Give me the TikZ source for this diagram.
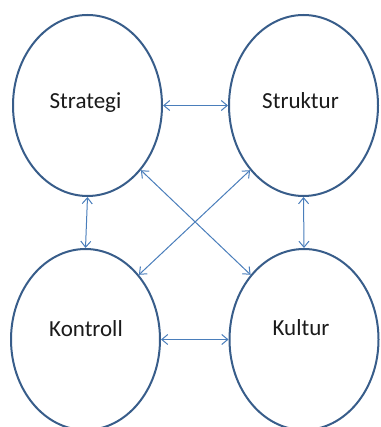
\documentclass[tikz,border=0pt]{standalone}
\usepackage{fontspec}
\setmainfont{Carlito}
\usetikzlibrary{arrows.meta,shapes.geometric}
\definecolor{ringblue}{HTML}{385D8A}
\definecolor{linkblue}{HTML}{4A7EBB}
\definecolor{ink}     {HTML}{1A1A1A}
\tikzset{
  ringnode/.style ={ellipse, draw=ringblue, fill=white, line width=2pt,
                    minimum width=149pt, minimum height=181pt, inner sep=0pt},
  ringtext/.style ={font=\fontsize{23}{27}\selectfont, text=ink,
                    inner sep=0pt, anchor=base},
  linkarr/.style  ={{Straight Barb[length=6pt,width=10pt]}-{Straight Barb[length=6pt,width=10pt]},
                    line width=1pt, color=linkblue},
}
\begin{document}
\begin{tikzpicture}[x=1pt,y=-1pt]
    \clip (0,0) rectangle (380,427);
    \node[ringnode] (strategi) at (87.5,105.5) {};
    \node[ringnode] (struktur) at (303.5,105.5) {};
    \node[ringnode] (kontroll) at (85.5,339.5) {};
    \node[ringnode] (kultur)   at (304,339.5) {};

    \draw[linkarr] (strategi.east)       -- (struktur.west);
    \draw[linkarr] (kontroll.east)       -- (kultur.west);
    \draw[linkarr] (strategi.south)      -- (kontroll.north);
    \draw[linkarr] (struktur.south)      -- (kultur.north);
    \draw[linkarr] (strategi.south east) -- (kultur.north west);
    \draw[linkarr] (struktur.south west) -- (kontroll.north east);

    \node[ringtext] (strategiT) at (85.5,109) {Strategi};
    \node[ringtext] (strukturT) at (300.5,109) {Struktur};
    \node[ringtext] (kontrollT) at (86,336) {Kontroll};
    \node[ringtext] (kulturT)   at (301,335) {Kultur};
  \end{tikzpicture}
\end{document}
